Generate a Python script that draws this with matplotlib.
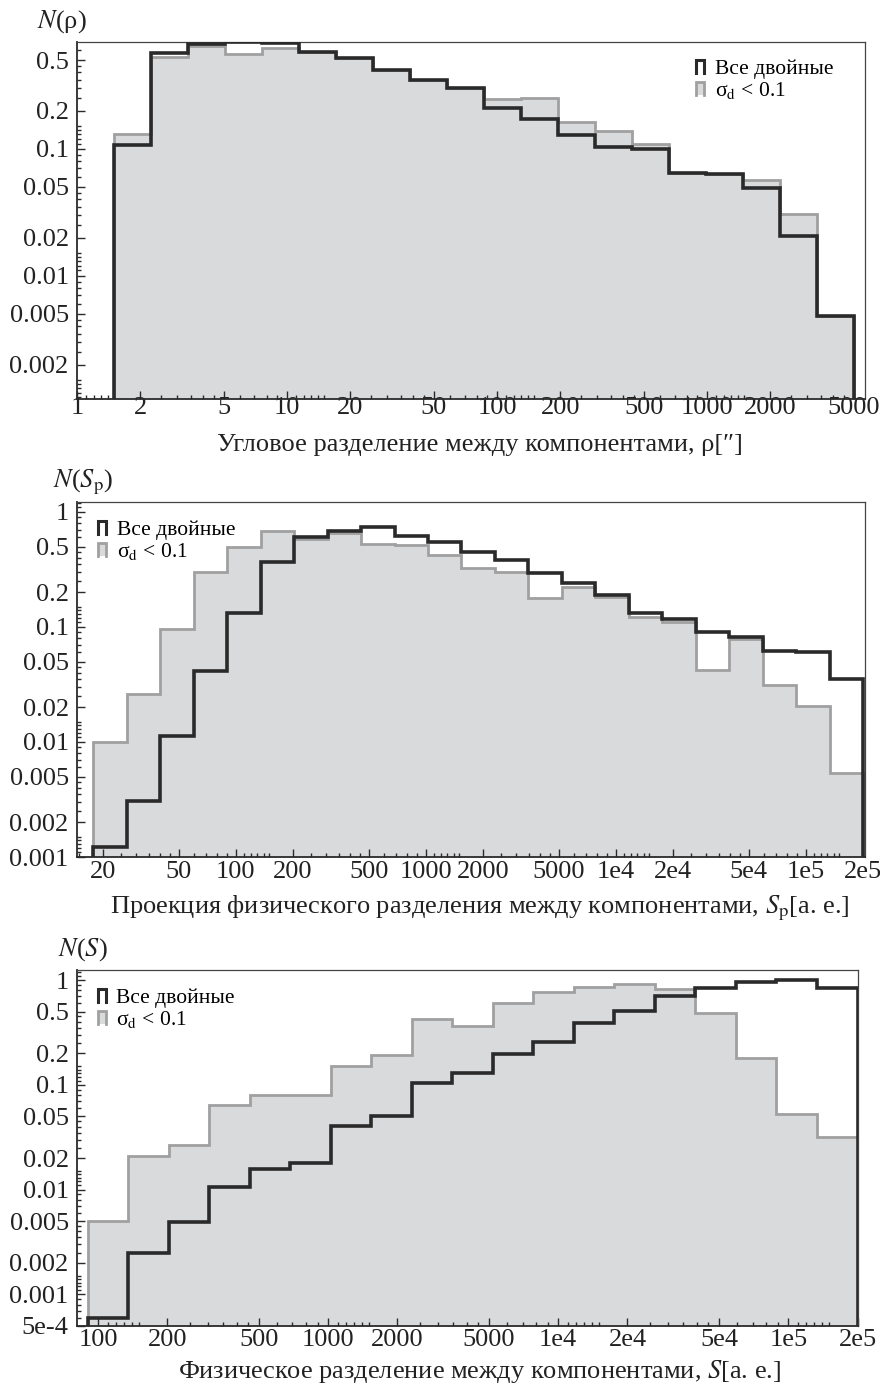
import numpy as np
import matplotlib
matplotlib.use("Agg")
import matplotlib.pyplot as plt
from matplotlib.ticker import FixedLocator, NullFormatter
from matplotlib.legend_handler import HandlerBase
from matplotlib.lines import Line2D
from matplotlib.patches import Rectangle

plt.rcParams['font.family'] = ['Liberation Serif', 'DejaVu Serif']
plt.rcParams['mathtext.fontset'] = 'stix'

# ---------------- data ----------------
# Panel 1: angular separation rho ["]
rho_edges = [1.5, 2.25, 3.375, 5.06, 7.59, 11.39, 17.09, 25.63, 38.44, 57.67, 86.5,
             129.7, 194.6, 291.9, 437.9, 656.8, 985.3, 1477.9, 2216.8, 3325.3, 4987.8]
rho_all = [0.107, 0.567, 0.67, 0.69, 0.68, 0.578, 0.518, 0.417, 0.348, 0.301, 0.209,
           0.171, 0.128, 0.103, 0.0994, 0.0644, 0.0633, 0.0491, 0.0206, 0.00482]
rho_sel = [0.131, 0.528, 0.65, 0.56, 0.62, 0.578, 0.518, 0.417, 0.348, 0.301, 0.247,
           0.251, 0.163, 0.138, 0.109, 0.0644, 0.0633, 0.0568, 0.0306, 0.00482]

# Panel 2: projected separation Sp [au]
sp_edges = [17.82, 26.73, 40.10, 60.15, 90.22, 135.3, 203.0, 304.5, 456.7, 685.1, 1027.6,
            1541.5, 2312.2, 3468.3, 5202.5, 7803.7, 11705, 17559, 26337, 39506, 59259,
            88889, 133333, 200000]
sp_all = [0.00122, 0.00307, 0.0113, 0.0414, 0.132, 0.368, 0.606, 0.684, 0.74, 0.618, 0.548,
          0.449, 0.382, 0.295, 0.241, 0.19, 0.132, 0.117, 0.0902, 0.082, 0.0619, 0.0606, 0.0355]
sp_sel = [0.0099, 0.0261, 0.096, 0.30, 0.497, 0.684, 0.582, 0.657, 0.527, 0.516, 0.423,
          0.326, 0.30, 0.179, 0.223, 0.182, 0.122, 0.11, 0.042, 0.079, 0.0313, 0.0205, 0.00536]

# Panel 3: physical separation S [au]
s_edges = [90.22, 135.3, 203.0, 304.5, 456.7, 685.1, 1027.6, 1541.5, 2312.2, 3468.3,
           5202.5, 7803.7, 11705, 17559, 26337, 39506, 59259, 88889, 133333, 200000]
s_all = [0.0006, 0.00248, 0.00492, 0.0107, 0.0159, 0.0178, 0.0403, 0.0503, 0.1045, 0.130,
         0.199, 0.259, 0.386, 0.503, 0.70, 0.838, 0.957, 1.0, 0.838]
s_sel = [0.00503, 0.0212, 0.0265, 0.0642, 0.080, 0.081, 0.152, 0.194, 0.422, 0.369,
         0.601, 0.767, 0.857, 0.915, 0.819, 0.482, 0.182, 0.0526, 0.0316]

# tick labels
rho_xticks = [1, 2, 5, 10, 20, 50, 100, 200, 500, 1000, 2000, 5000]
rho_xlabels = ["1", "2", "5", "10", "20", "50", "100", "200", "500", "1000", "2000", "5000"]
rho_yticks = [0.5, 0.2, 0.1, 0.05, 0.02, 0.01, 0.005, 0.002]
rho_ylabels = ["0.5", "0.2", "0.1", "0.05", "0.02", "0.01", "0.005", "0.002"]

sp_xticks = [20, 50, 100, 200, 500, 1000, 2000, 5000, 1e4, 2e4, 5e4, 1e5, 2e5]
sp_xlabels = ["20", "50", "100", "200", "500", "1000", "2000", "5000", "1e4", "2e4", "5e4", "1e5", "2e5"]
sp_yticks = [1, 0.5, 0.2, 0.1, 0.05, 0.02, 0.01, 0.005, 0.002, 0.001]
sp_ylabels = ["1", "0.5", "0.2", "0.1", "0.05", "0.02", "0.01", "0.005", "0.002", "0.001"]

s_xticks = [100, 200, 500, 1000, 2000, 5000, 1e4, 2e4, 5e4, 1e5, 2e5]
s_xlabels = ["100", "200", "500", "1000", "2000", "5000", "1e4", "2e4", "5e4", "1e5", "2e5"]
s_yticks = [1, 0.5, 0.2, 0.1, 0.05, 0.02, 0.01, 0.005, 0.002, 0.001, 5e-4]
s_ylabels = ["1", "0.5", "0.2", "0.1", "0.05", "0.02", "0.01", "0.005", "0.002", "0.001", "5e-4"]

legend_labels = ["Все двойные", "σ$_\\mathrm{d}$ < 0.1"]

# ---------------- styling ----------------
W, H = 880, 1385
FILL = "#d9dadc"
GREY_LINE = "#a0a0a0"
DARK = "#2a2a2a"
TICK_FS = 19
LAB_FS = 19
LEG_FS = 15.5


def minor_positions(lo, hi):
    mult = [1.1, 1.2, 1.3, 1.4, 1.5, 2.5, 3, 3.5, 4, 4.5, 6, 7, 8, 9]
    out = []
    for e in range(int(np.floor(np.log10(lo))) - 1, int(np.ceil(np.log10(hi))) + 1):
        for m in mult:
            v = m * 10.0 ** e
            if lo <= v <= hi:
                out.append(v)
    return out


class StepHandler(HandlerBase):
    def __init__(self, color, lw, fill=None):
        super().__init__()
        self.color, self.lw, self.fill = color, lw, fill

    def create_artists(self, legend, orig_handle, xdescent, ydescent, width, height,
                       fontsize, trans):
        x0, y0 = -xdescent, -ydescent
        x1, y1 = x0 + width, y0 + height
        arts = []
        if self.fill:
            arts.append(Rectangle((x0, y0), width, height, facecolor=self.fill,
                                  edgecolor='none', transform=trans))
        arts.append(Line2D([x0, x0, x1, x1], [y0, y1, y1, y0], color=self.color,
                           lw=self.lw, transform=trans, solid_joinstyle='miter'))
        return arts


def px_axes(left, top, right, bottom):
    return [left / W, 1 - bottom / H, (right - left) / W, (bottom - top) / H]


fig = plt.figure(figsize=(W / 100, H / 100), dpi=100)

panels = [
    dict(rect=px_axes(77, 42, 865, 399), edges=rho_edges, all=rho_all, sel=rho_sel,
         xlim=(1, 5650), ylim=(0.00107, 0.693), xt=rho_xticks, xl=rho_xlabels,
         yt=rho_yticks, yl=rho_ylabels, xpad=-1.5,
         xlabel="Угловое разделение между компонентами, ρ[″]",
         ylabel="$N$(ρ)", ylab_xy=(37, 22), xlab_base=451,
         leg_anchor=(0.786, 0.950)),
    dict(rect=px_axes(77, 502, 865, 857), edges=sp_edges, all=sp_all, sel=sp_sel,
         xlim=(14.6, 2.05e5), ylim=(0.001, 1.22), xt=sp_xticks, xl=sp_xlabels,
         yt=sp_yticks, yl=sp_ylabels, xpad=3,
         xlabel="Проекция физического разделения между компонентами, $S_\\mathrm{p}$[а. е.]",
         ylabel="$N$($S_\\mathrm{p}$)", ylab_xy=(53, 482), xlab_base=913,
         leg_anchor=(0.027, 0.947)),
    dict(rect=px_axes(77, 970, 858, 1326), edges=s_edges, all=s_all, sel=s_sel,
         xlim=(81, 2.01e5), ylim=(5e-4, 1.25), xt=s_xticks, xl=s_xlabels,
         yt=s_yticks, yl=s_ylabels, xpad=2,
         xlabel="Физическое разделение между компонентами, $S$[а. е.]",
         ylabel="$N$($S$)", ylab_xy=(58, 950), xlab_base=1378,
         leg_anchor=(0.027, 0.947)),
]

for p in panels:
    ax = fig.add_axes(p['rect'])
    ax.set_xscale('log')
    ax.set_yscale('log')
    base = 1e-8
    ax.stairs(p['sel'], p['edges'], baseline=base, fill=True, color=FILL, lw=0, zorder=1)
    h_sel = ax.stairs(p['sel'], p['edges'], baseline=base, fill=False,
                      edgecolor=GREY_LINE, lw=2.0, zorder=2)
    h_all = ax.stairs(p['all'], p['edges'], baseline=base, fill=False,
                      edgecolor=DARK, lw=2.6, zorder=3)
    ax.set_xlim(*p['xlim'])
    ax.set_ylim(*p['ylim'])

    ax.xaxis.set_major_locator(FixedLocator(p['xt']))
    ax.set_xticklabels(p['xl'])
    ax.yaxis.set_major_locator(FixedLocator(p['yt']))
    ax.set_yticklabels(p['yl'])
    ax.xaxis.set_minor_locator(FixedLocator(minor_positions(*p['xlim'])))
    ax.yaxis.set_minor_locator(FixedLocator(minor_positions(*p['ylim'])))
    ax.xaxis.set_minor_formatter(NullFormatter())
    ax.yaxis.set_minor_formatter(NullFormatter())
    ax.tick_params(which='both', direction='in', top=False, right=False,
                   color=DARK, width=1.0, labelsize=TICK_FS, labelcolor='#222')
    ax.tick_params(which='major', length=5.5)
    ax.tick_params(which='minor', length=3)
    ax.tick_params(axis='y', pad=6)
    ax.tick_params(axis='x', pad=p['xpad'])
    for side in ['left', 'bottom']:
        ax.spines[side].set_color(DARK)
        ax.spines[side].set_linewidth(1.3)
    for side in ['top', 'right']:
        ax.spines[side].set_color('#444')
        ax.spines[side].set_linewidth(0.9)

    fig.text(p['ylab_xy'][0] / W, 1 - p['ylab_xy'][1] / H, p['ylabel'],
             fontsize=LAB_FS, ha='left', va='center', color='#222')
    fig.text(480 / W, 1 - p['xlab_base'] / H, p['xlabel'], fontsize=LAB_FS,
             ha='center', va='baseline', color='#222')

    ax.legend([h_all, h_sel], legend_labels, loc='upper left',
              bbox_to_anchor=p['leg_anchor'], frameon=False, fontsize=LEG_FS,
              handlelength=0.35, handleheight=0.55, handletextpad=0.5,
              labelspacing=0.05, borderpad=0, borderaxespad=0,
              handler_map={h_all: StepHandler(DARK, 2.2),
                           h_sel: StepHandler(GREY_LINE, 2.0, fill=FILL)})

fig.savefig("out.png", dpi=100)
